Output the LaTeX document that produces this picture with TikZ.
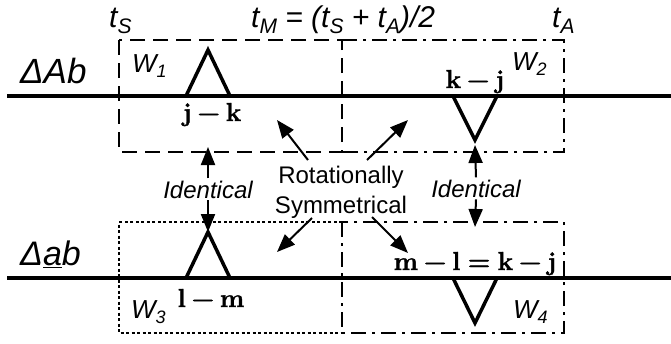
\documentclass[tikz,border=0pt]{standalone}
\usepackage{fontspec}
\setmainfont{Liberation Sans}
\newfontfamily\lmrm{Latin Modern Roman}[BoldFeatures={FakeBold=1.3}]
\usetikzlibrary{arrows.meta}
\newcommand\fs[1]{\fontsize{#1}{#1}\selectfont}
\newcommand\sbx[2][21]{\raisebox{-0.22em}{\fs{#1}#2}}
\newcommand\bop[1]{\hspace{0.22em}#1\hspace{0.22em}}
\newcommand\brel[1]{\hspace{0.28em}#1\hspace{0.28em}}
\begin{document}
\begin{tikzpicture}[x=1pt,y=-1pt,
  axisline/.style={line width=4pt},
  tri/.style={line width=3.5pt, line join=miter},
  boxA/.style={line width=2.3pt, dash pattern=on 15pt off 8pt},
  boxB/.style={line width=2.3pt, dash pattern=on 15pt off 6pt on 3pt off 6pt},
  boxC/.style={line width=2.3pt, dash pattern=on 3pt off 2.5pt},
  arr/.style={line width=2pt, -{Triangle[length=18pt,width=14pt]}},
  lbl/.style={inner sep=0pt},
  wlbl/.style={inner sep=0pt, font=\fs{26}\itshape},
  bold/.style={inner sep=0pt, font=\fs{26}\lmrm\bfseries},
  it/.style={inner sep=2pt, font=\fs{24}\itshape}
]
\useasboundingbox (0,0) rectangle (671,343);
% window boxes
\draw[boxA] (119,40) rectangle (342,152);
\draw[boxB] (342,40) -- (564,40) -- (564,152) -- (342,152);
\draw[boxC] (342,222) -- (119,222) -- (119,333) -- (342,333);
\draw[boxB] (342,222) rectangle (564,333);
% axis lines
\draw[axisline] (7,96) -- (671,96);
\draw[axisline] (7,278) -- (671,278);
% triangles
\draw[tri] (186,96) -- (208,50) -- (230,96);
\draw[tri] (453,96) -- (475,140) -- (497,96);
\draw[tri] (186,278) -- (208,232) -- (230,278);
\draw[tri] (453,278) -- (475,323) -- (497,278);
% time labels
\node[lbl, anchor=base west] (tS) at (109,27) {\fs{30}\itshape t\sbx{S}};
\node[lbl, anchor=base west] (tM) at (251,27) {\fs{30}\itshape t\sbx{M} = (t\sbx{S} + t\sbx{A})/2};
\node[lbl, anchor=base west] (tA) at (552,27) {\fs{30}\itshape t\sbx{A}};
% row labels
\node[lbl, anchor=base west] (lAb) at (20,83) {\fs{35}\itshape ΔAb};
\node[lbl, anchor=base west] (lab) at (20,265) {\fs{34}\itshape Δ\underline{a}b};
% window labels
\node[wlbl, anchor=base west] (w1) at (132,72) {W\sbx[18]{1}};
\node[wlbl, anchor=base west] (w2) at (512,70) {W\sbx[18]{2}};
\node[wlbl, anchor=base west] (w3) at (131,318) {W\sbx[18]{3}};
\node[wlbl, anchor=base west] (w4) at (513,318) {W\sbx[18]{4}};
% bold difference labels
\node[bold, anchor=base] (jk) at (212,121) {j\bop{−}k};
\node[bold, anchor=base] (kj) at (475,88) {k\bop{−}j};
\node[bold, anchor=base] (lm) at (211,307) {l\bop{−}m};
\node[bold, anchor=base] (mlkj) at (475,270) {m\bop{−}l\brel{=}k\bop{−}j};
% identical
\node[it, anchor=base] (idl) at (208,198) {Identical};
\node[it, anchor=base] (idr) at (476,197) {Identical};
\coordinate (idlT) at (208,147);
\coordinate (idlB) at (208,232);
\coordinate (idrT) at (475,145);
\coordinate (idrB) at (475,227);
\draw[arr] (idl.north) -- (idlT);
\draw[arr] (idl.south) -- (idlB);
\draw[arr] (idr.north) -- (idrT);
\draw[arr] (idr.south) -- (idrB);
% rotationally symmetrical
\node[lbl, align=center, anchor=north, font=\fontsize{24}{30}\selectfont] (rot) at (341,165.5) {Rotationally\\Symmetrical};
\coordinate (rUL0) at (308,160);
\coordinate (rUR0) at (367,160);
\coordinate (rLL0) at (312,218);
\coordinate (rLR0) at (372,217);
\coordinate (rUL) at (277,120);
\coordinate (rUR) at (408,120);
\coordinate (rLL) at (277,252);
\coordinate (rLR) at (408,253);
\draw[arr] (rUL0) -- (rUL);
\draw[arr] (rUR0) -- (rUR);
\draw[arr] (rLL0) -- (rLL);
\draw[arr] (rLR0) -- (rLR);
\end{tikzpicture}
\end{document}
